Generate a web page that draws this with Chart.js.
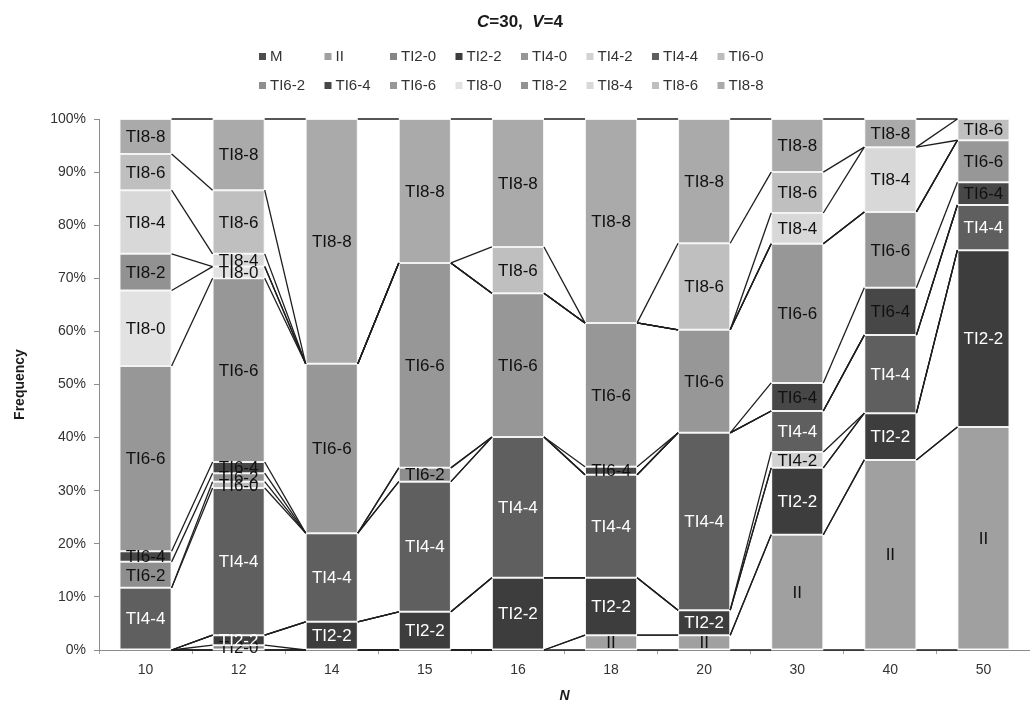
<!DOCTYPE html>
<html>
<head>
<meta charset="utf-8">
<script src="https://cdn.jsdelivr.net/npm/chart.js@4.4.1/dist/chart.umd.min.js"></script>
<style>
    html, body { margin: 0; padding: 0; background: #ffffff; }
    #wrap { width: 1030px; height: 709px; }
</style>
</head>
<body>
<div id="wrap"><canvas id="chart" width="1030" height="709"></canvas></div>
<script>
// N values on the x axis
const categories = ["10", "12", "14", "15", "16", "18", "20", "30", "40", "50"];

// frequency (%) of each configuration, one array per series
const valuesM    = [0, 0, 0, 0, 0, 0, 0, 0, 0, 0];
const valuesII   = [0, 0, 0, 0, 0, 2.8, 2.8, 21.7, 35.8, 42.0];
const valuesTI20 = [0, 0.9, 0, 0, 0, 0, 0, 0, 0, 0];
const valuesTI22 = [0, 1.9, 5.3, 7.2, 13.6, 10.8, 4.7, 12.6, 8.8, 33.3];
const valuesTI40 = [0, 0, 0, 0, 0, 0, 0, 0, 0, 0];
const valuesTI42 = [0, 0, 0, 0, 0, 0, 0, 3.0, 0, 0];
const valuesTI44 = [11.7, 27.7, 16.7, 24.5, 26.5, 19.4, 33.4, 7.7, 14.7, 8.5];
const valuesTI60 = [0, 1.2, 0, 0, 0, 0, 0, 0, 0, 0];
const valuesTI62 = [4.9, 1.6, 0, 2.6, 0, 0, 0, 0, 0, 0];
const valuesTI64 = [2.0, 2.1, 0, 0, 0, 1.5, 0, 5.3, 8.9, 4.3];
const valuesTI66 = [34.9, 34.6, 31.9, 38.6, 27.1, 27.1, 19.4, 26.2, 14.3, 7.9];
const valuesTI80 = [14.2, 2.2, 0, 0, 0, 0, 0, 0, 0, 0];
const valuesTI82 = [6.9, 0, 0, 0, 0, 0, 0, 0, 0, 0];
const valuesTI84 = [12.0, 2.4, 0, 0, 0, 0, 0, 5.8, 12.2, 0];
const valuesTI86 = [6.8, 12.0, 0, 0, 8.7, 0, 16.3, 7.7, 0, 4.0];
const valuesTI88 = [6.6, 13.4, 46.1, 27.1, 24.1, 38.4, 23.4, 10.0, 5.3, 0];

const yTicks = [0, 10, 20, 30, 40, 50, 60, 70, 80, 90, 100];

const seriesNames = [
    "M", "II", "TI2-0", "TI2-2", "TI4-0", "TI4-2", "TI4-4", "TI6-0",
    "TI6-2", "TI6-4", "TI6-6", "TI8-0", "TI8-2", "TI8-4", "TI8-6", "TI8-8"
];

const seriesValues = [
    valuesM, valuesII, valuesTI20, valuesTI22, valuesTI40, valuesTI42, valuesTI44, valuesTI60,
    valuesTI62, valuesTI64, valuesTI66, valuesTI80, valuesTI82, valuesTI84, valuesTI86, valuesTI88
];

const seriesColors = [
    "#4d4d4d", "#a0a0a0", "#868686", "#3d3d3d", "#959595", "#d2d2d2", "#5f5f5f", "#bcbcbc",
    "#8e8e8e", "#474747", "#979797", "#e2e2e2", "#929292", "#d8d8d8", "#bfbfbf", "#aaaaaa"
];

const labelColors = [
    "#ffffff", "#111111", "#111111", "#ffffff", "#111111", "#111111", "#ffffff", "#111111",
    "#111111", "#111111", "#111111", "#111111", "#111111", "#111111", "#111111", "#111111"
];

const FONT = "'Liberation Sans', Arial, sans-serif";


// Excel-style series lines + segment labels
const seriesLinesPlugin = {
    id: "seriesLines",
    afterDatasetsDraw: function (chart) {
        const ctx = chart.ctx;
        ctx.save();

        ctx.strokeStyle = "#1e1e1e";
        ctx.lineWidth = 1.3;
        chart.data.datasets.forEach(function (dataset, datasetIndex) {
            const bars = chart.getDatasetMeta(datasetIndex).data;
            for (let i = 0; i < bars.length - 1; i++) {
                const a = bars[i];
                const b = bars[i + 1];
                ctx.beginPath();
                ctx.moveTo(a.x + a.width / 2, a.y);
                ctx.lineTo(b.x - b.width / 2, b.y);
                ctx.stroke();
            }
        });

        ctx.font = "17px " + FONT;
        ctx.textAlign = "center";
        ctx.textBaseline = "middle";
        chart.data.datasets.forEach(function (dataset, datasetIndex) {
            const bars = chart.getDatasetMeta(datasetIndex).data;
            bars.forEach(function (bar, i) {
                if (!(dataset.data[i] > 0)) {
                    return;
                }
                ctx.fillStyle = labelColors[datasetIndex];
                ctx.fillText(dataset.label, bar.x, (bar.y + bar.base) / 2 + 1);
            });
        });

        ctx.restore();
    }
};


// title and the fixed-column legend
const headerPlugin = {
    id: "header",
    afterDraw: function (chart) {
        const ctx = chart.ctx;
        ctx.save();

        // title: C=30, V=4 with italic variables
        const parts = [
            ["C", "italic bold"],
            ["=30,  ", "bold"],
            ["V", "italic bold"],
            ["=4", "bold"]
        ];
        let total = 0;
        parts.forEach(function (p) {
            ctx.font = p[1] + " 17px " + FONT;
            total += ctx.measureText(p[0]).width;
        });
        let x = 520 - total / 2;
        ctx.fillStyle = "#1a1a1a";
        ctx.textBaseline = "middle";
        ctx.textAlign = "left";
        parts.forEach(function (p) {
            ctx.font = p[1] + " 17px " + FONT;
            ctx.fillText(p[0], x, 22);
            x += ctx.measureText(p[0]).width;
        });

        // legend, 8 equal columns per row
        ctx.font = "15px " + FONT;
        chart.data.datasets.forEach(function (dataset, i) {
            const col = i % 8;
            const row = Math.floor(i / 8);
            const bx = 259 + col * 65.5;
            const by = row === 0 ? 56 : 85;
            ctx.fillStyle = dataset.backgroundColor;
            ctx.fillRect(bx, by - 3, 7, 7);
            ctx.fillStyle = "#333333";
            ctx.fillText(dataset.label, bx + 11, by + 1);
        });

        ctx.restore();
    }
};


const canvas = document.getElementById("chart");

new Chart(canvas, {
    type: "bar",

    data: {
        labels: categories,
        datasets: seriesNames.map(function (name, i) {
            return {
                label: name,
                data: seriesValues[i],
                backgroundColor: seriesColors[i],
                borderColor: "#f3f3f3",
                borderWidth: 1,
                borderSkipped: false,
                barPercentage: 0.56,
                categoryPercentage: 1
            };
        })
    },

    options: {
        responsive: false,
        animation: false,
        layout: {
            padding: { top: 119, left: 0, right: 0, bottom: 0 }
        },

        plugins: {
            legend: { display: false },
            title: { display: false },
            tooltip: { enabled: false }
        },

        scales: {
            x: {
                stacked: true,
                grid: {
                    offset: true,
                    drawOnChartArea: false,
                    tickLength: 4,
                    color: "#a0a0a0"
                },
                border: { color: "#8c8c8c" },
                ticks: {
                    color: "#333333",
                    padding: 8,
                    font: { family: FONT, size: 14 }
                },
                title: {
                    display: true,
                    text: "N",
                    color: "#1a1a1a",
                    padding: { top: 2, bottom: 4 },
                    font: { family: FONT, size: 14, weight: "bold", style: "italic" }
                },
                afterFit: function (scale) {
                    scale.height = 59;
                }
            },

            y: {
                stacked: true,
                min: 0,
                max: 100,
                afterBuildTicks: function (scale) {
                    scale.ticks = yTicks.map(function (v) {
                        return { value: v };
                    });
                },
                grid: {
                    drawOnChartArea: false,
                    tickLength: 5,
                    color: "#8c8c8c"
                },
                border: { color: "#8c8c8c" },
                ticks: {
                    color: "#333333",
                    padding: 8,
                    font: { family: FONT, size: 14 },
                    callback: function (value) {
                        return value + "%";
                    }
                },
                title: {
                    display: true,
                    text: "Frequency",
                    color: "#1a1a1a",
                    padding: { top: 12, bottom: 4 },
                    font: { family: FONT, size: 14, weight: "bold" }
                },
                afterFit: function (scale) {
                    scale.width = 99;
                }
            }
        }
    },

    plugins: [seriesLinesPlugin, headerPlugin]
});
</script>
</body>
</html>
